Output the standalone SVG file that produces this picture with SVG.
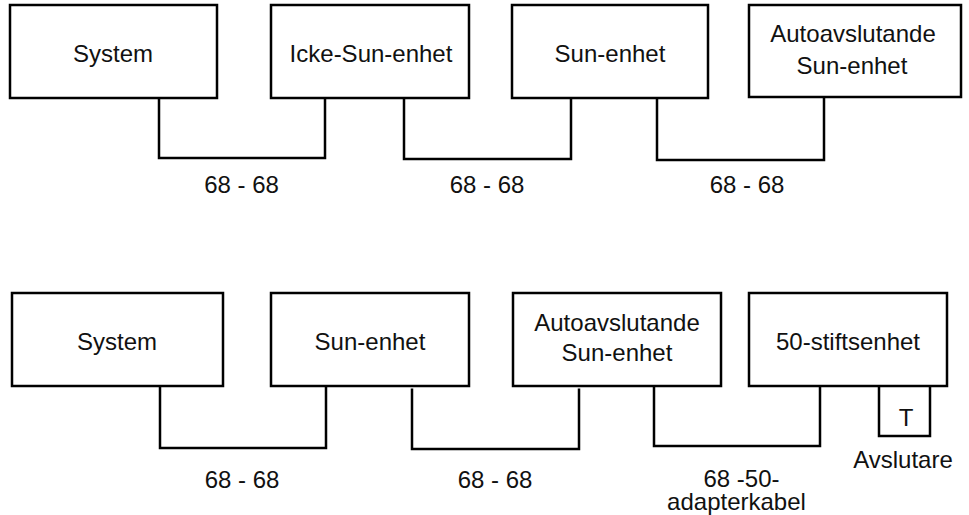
<svg xmlns="http://www.w3.org/2000/svg" width="969" height="515" viewBox="0 0 969 515">
<style>
.box{fill:#fff;stroke:#000;stroke-width:2.5}
.ln{fill:none;stroke:#000;stroke-width:2.5}
text{font-family:"Liberation Sans",Arial,Helvetica,sans-serif;font-size:24px;fill:#111;text-anchor:middle}
</style>
<rect width="969" height="515" fill="#fff"/>
<g id="connectors">
<path class="ln" d="M159 98 V158 H325 V98"/>
<path class="ln" d="M404 98 V159 H571 V98"/>
<path class="ln" d="M657 98 V160 H824 V98"/>
<path class="ln" d="M160 386 V448 H326 V386"/>
<path class="ln" d="M412 388.5 V449 H579 V388.5"/>
<path class="ln" d="M654 386 V446 H820 V386"/>
</g>
<g id="labels">
<text x="241.5" y="193">68 - 68</text>
<text x="487" y="193">68 - 68</text>
<text x="747" y="193">68 - 68</text>
<text x="242" y="488">68 - 68</text>
<text x="495" y="488">68 - 68</text>
<text x="741.5" y="487">68 -50-</text>
<text x="736.5" y="510">adapterkabel</text>
</g>
<g id="n1"><rect class="box" x="10" y="5" width="207" height="93"/><text x="113" y="62">System</text></g>
<g id="n2"><rect class="box" x="271" y="5" width="198" height="93"/><text x="371" y="62">Icke-Sun-enhet</text></g>
<g id="n3"><rect class="box" x="512" y="5" width="196" height="93"/><text x="610" y="62">Sun-enhet</text></g>
<g id="n4"><rect class="box" x="749" y="5" width="212" height="92"/><text x="853" y="42">Autoavslutande</text><text x="852" y="74">Sun-enhet</text></g>
<g id="m1"><rect class="box" x="12" y="293" width="211" height="93"/><text x="117" y="350">System</text></g>
<g id="m2"><rect class="box" x="271" y="293" width="198" height="93"/><text x="370" y="350">Sun-enhet</text></g>
<g id="m3"><rect class="box" x="513" y="293" width="208" height="93"/><text x="617" y="331">Autoavslutande</text><text x="617" y="361">Sun-enhet</text></g>
<g id="m4"><rect class="box" x="749" y="293" width="198" height="93"/><text x="848" y="350">50-stiftsenhet</text></g>
<g id="term"><path class="ln" d="M879 386 V436 H930 V386"/><text x="906" y="426">T</text><text x="903" y="468">Avslutare</text></g>
</svg>
